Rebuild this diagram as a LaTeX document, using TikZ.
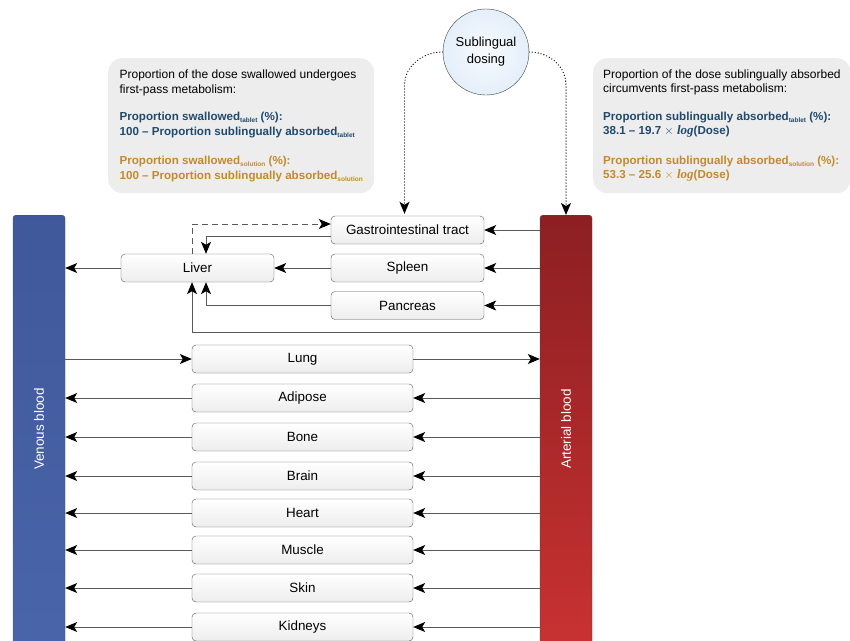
\documentclass[tikz,border=0pt]{standalone}
\usepackage{fontspec}
\setmainfont{Liberation Sans}
\newfontfamily\logfont{Liberation Serif}
\usepackage{tikz}
\usetikzlibrary{calc, arrows.meta}
\definecolor{venblue}{HTML}{4560A8}
\definecolor{artdark}{HTML}{8C1F22}
\definecolor{artlight}{HTML}{CA3232}
\definecolor{tabblue}{HTML}{1F4A6E}
\definecolor{solgold}{HTML}{C48A2A}
\definecolor{infogray}{HTML}{EDEDED}
\definecolor{dosefill}{HTML}{E4EFFA}
\tikzstyle{organ}=[draw=black!65, rounded corners=4pt, top color=white, bottom color=black!7, minimum width=153pt, minimum height=28pt, font=\fontsize{13.4}{15}\selectfont]
\tikzstyle{tissue}=[organ, minimum width=221pt]
\tikzstyle{flow}=[draw=black!65, line width=0.9pt, -{Stealth[length=12pt, width=10pt, inset=3pt, color=black]}]
\tikzstyle{dose}=[line width=1.3pt, dash pattern=on 0pt off 3pt, line cap=round, -{Stealth[length=12pt, width=10pt, inset=3pt]}]
\tikzstyle{info}=[fill=infogray, rounded corners=14pt, align=left, anchor=north west, inner xsep=10pt, minimum height=135pt, font=\fontsize{12}{14.5}\selectfont]
\tikzstyle{bar}=[draw=black!70, rounded corners=3pt, minimum width=52pt, minimum height=440pt, anchor=north]
\tikzstyle{bartext}=[rotate=90, text=white, font=\fontsize{13.5}{15}\selectfont]
\newcommand{\sbs}[1]{\raisebox{-2pt}{\fontsize{6.5}{7}\selectfont #1}}
\newcommand{\tabl}[1]{\textcolor{tabblue}{\fontsize{11.6}{14.5}\selectfont\bfseries #1}}
\newcommand{\solu}[1]{\textcolor{solgold}{\fontsize{11.6}{14.5}\selectfont\bfseries #1}}
\newcommand{\logword}{{\logfont\bfseries\itshape\fontsize{13}{14.5}\selectfont log}}

\begin{document}
\begin{tikzpicture}[x=1pt, y=-1pt]
  \useasboundingbox (0,0) rectangle (850,640);
  \clip (0,0) rectangle (850,640);
  % blood pools
  \node [bar, top color=venblue!92!black, bottom color=venblue!97!white] (venous) at (39,215) {};
  \node [bartext] at (39,429) {Venous blood};
  \node [bar, top color=artdark, bottom color=artlight] (arterial) at (566,215) {};
  \node [bartext] at (566,429) {Arterial blood};
  % dosing
  \node [circle, draw=black!75, inner color=white!70!dosefill, outer color=dosefill, minimum size=86pt, align=center, font=\fontsize{13}{17}\selectfont] (sub) at (486,52) {Sublingual\\dosing};
  \node [info, minimum width=266pt] (swallowed) at (108,58) {Proportion of the dose swallowed undergoes\\first-pass metabolism:\\[13pt]
    \tabl{Proportion swallowed\sbs{tablet} (\%):}\\
    \tabl{100 -- Proportion sublingually absorbed\sbs{tablet}}\\[15pt]
    \solu{Proportion swallowed\sbs{solution} (\%):}\\
    \solu{100 -- Proportion sublingually absorbed\sbs{solution}}};
  \node [info, minimum width=256pt] (absorbed) at (593,58) {Proportion of the dose sublingually absorbed\\circumvents first-pass metabolism:\\[13pt]
    \tabl{Proportion sublingually absorbed\sbs{tablet} (\%):}\\
    \tabl{38.1 -- 19.7 $\times$ \logword(Dose)}\\[15pt]
    \solu{Proportion sublingually absorbed\sbs{solution} (\%):}\\
    \solu{53.3 -- 25.6 $\times$ \logword(Dose)}};
  % splanchnic organs
  \node [organ] (gi) at (407.5,230) {Gastrointestinal tract};
  \node [organ] (spleen) at (407.5,268) {Spleen};
  \node [organ] (pancreas) at (407.5,305.5) {Pancreas};
  \node [organ] (liver) at (197.5,268) {Liver};
  % other tissues
  \node [tissue] (lung) at (302.5,359) {Lung};
  \node [tissue] (adipose) at (302.5,398) {Adipose};
  \node [tissue] (bone) at (302.5,437) {Bone};
  \node [tissue] (brain) at (302.5,476) {Brain};
  \node [tissue] (heart) at (302.5,513) {Heart};
  \node [tissue] (muscle) at (302.5,550) {Muscle};
  \node [tissue] (skin) at (302.5,588) {Skin};
  \node [tissue] (kidneys) at (302.5,627) {Kidneys};
  % sublingual routes
  \draw [dose] (sub.west) to[out=180, in=90] ($(gi.north)+(-3,-130)$) -- ($(gi.north)+(-3,-2)$);
  \draw [dose] (sub.east) to[out=0, in=90] ($(arterial.north)+(0,-130)$) -- (arterial.north);
  % splanchnic flows
  \draw [flow] (arterial.west |- gi) -- (gi);
  \draw [flow] (arterial.west |- spleen) -- (spleen);
  \draw [flow] (arterial.west |- pancreas) -- (pancreas);
  \draw [flow] (arterial.west |- 0,332) -| ($(liver.south)+(-5.5,0)$);
  \draw [flow] (pancreas) -| ($(liver.south)+(8.5,0)$);
  \draw [flow] (spleen) -- (liver);
  \draw [flow] ($(gi.west)+(0,6)$) -| ($(liver.north)+(8.5,0)$);
  \draw [flow, dash pattern=on 6pt off 4pt] ($(liver.north)+(-5.5,0)$) |- ($(gi.west)+(0,-6)$);
  \draw [flow] (liver) -- (venous.east |- liver);
  % lung
  \draw [flow] (venous.east |- lung) -- (lung);
  \draw [flow] (lung) -- (arterial.west |- lung);
  % tissues
  \draw [flow] (arterial.west |- adipose) -- (adipose);
  \draw [flow] (adipose) -- (venous.east |- adipose);
  \draw [flow] (arterial.west |- bone) -- (bone);
  \draw [flow] (bone) -- (venous.east |- bone);
  \draw [flow] (arterial.west |- brain) -- (brain);
  \draw [flow] (brain) -- (venous.east |- brain);
  \draw [flow] (arterial.west |- heart) -- (heart);
  \draw [flow] (heart) -- (venous.east |- heart);
  \draw [flow] (arterial.west |- muscle) -- (muscle);
  \draw [flow] (muscle) -- (venous.east |- muscle);
  \draw [flow] (arterial.west |- skin) -- (skin);
  \draw [flow] (skin) -- (venous.east |- skin);
  \draw [flow] (arterial.west |- kidneys) -- (kidneys);
  \draw [flow] (kidneys) -- (venous.east |- kidneys);
\end{tikzpicture}
\end{document}
